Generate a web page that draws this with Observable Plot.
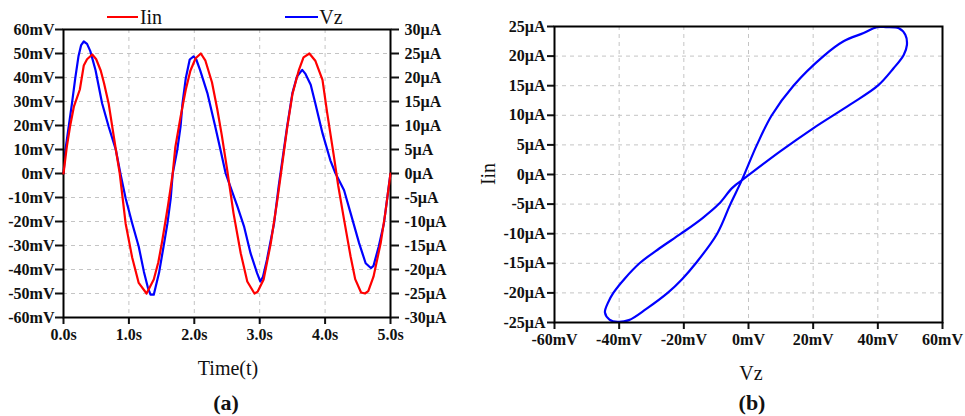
<!DOCTYPE html>
<html><head><meta charset="utf-8">
<script src="https://cdn.jsdelivr.net/npm/d3@7"></script>
<script src="https://cdn.jsdelivr.net/npm/@observablehq/plot@0.6"></script>
<style>
html,body{margin:0;padding:0;background:#fff;}
#root{position:relative;width:965px;height:416px;overflow:hidden;font-family:"Liberation Serif","Times New Roman",serif;color:#111;}
.panel{position:absolute;top:0;}
.panel svg{overflow:visible;}
.lbl{position:absolute;white-space:nowrap;line-height:1;}
.sw{position:absolute;height:0;border-top:2.5px solid;}
</style></head><body><div id="root"></div>
<script>
// ---- Panel (a): time series ----
const tIin = [0,0.05,0.10,0.16,0.25,0.31,0.36,0.44,0.50,0.57,0.62,0.69,0.80,0.86,0.95,1.05,1.15,1.27,1.38,1.45,1.51,1.60,1.67,1.71,1.79,1.87,1.94,2.02,2.10,2.17,2.27,2.35,2.42,2.50,2.60,2.71,2.81,2.92,2.97,3.06,3.17,3.27,3.34,3.42,3.50,3.60,3.67,3.76,3.85,3.96,4.03,4.13,4.20,4.29,4.39,4.46,4.55,4.61,4.66,4.74,4.85,4.92,5.00];
const iinUA = [0,5.5,9.8,14.0,17.5,22.5,23.8,24.8,23.8,21.4,18.8,14.6,5.0,0,-10.4,-17.5,-22.8,-25.0,-22.1,-18.5,-14.0,-6.5,0,5.5,11.8,17.5,21.4,24.0,25.0,23.5,19.0,13.5,8.0,1.0,-8.3,-16.6,-22.5,-25.0,-24.6,-22.1,-14.5,-5.5,1.5,9.5,16.5,21.6,24.2,25.0,23.5,19.5,12.8,4.0,-2.5,-9.6,-17.3,-22.0,-24.8,-25.0,-24.5,-21.5,-14.5,-8.3,0];
const tVz = [0,0.03,0.08,0.13,0.18,0.23,0.27,0.31,0.36,0.41,0.49,0.59,0.69,0.80,0.87,0.95,1.05,1.15,1.23,1.29,1.33,1.38,1.46,1.53,1.59,1.64,1.67,1.74,1.79,1.82,1.87,1.93,1.99,2.03,2.09,2.20,2.32,2.40,2.48,2.55,2.66,2.76,2.86,2.96,3.01,3.05,3.11,3.22,3.29,3.34,3.42,3.50,3.57,3.65,3.70,3.78,3.85,3.96,4.08,4.16,4.29,4.39,4.52,4.62,4.70,4.74,4.82,4.90,4.96,5.00];
const vzMV = [0,9.9,19.6,29.3,39.7,49.0,53.5,55.0,54.0,51.0,43.0,29.3,19.6,9.9,0,-10.3,-20.7,-30.4,-41.0,-47.5,-50.5,-50.5,-41.5,-30.4,-20.7,-10.3,0,9.9,19.6,29.3,39.7,47.5,48.8,47.5,43.0,33.5,19.6,9.9,0,-5.4,-13.8,-22.0,-33.2,-41.5,-45.0,-43.0,-36.0,-20.7,-5.4,4.3,19.6,33.5,40.4,43.2,41.5,37.0,29.3,16.8,5.5,0,-7.0,-16.5,-29.0,-37.4,-39.4,-38.5,-30.4,-20.7,-8.2,0];
const timeTicks = [0,1,2,3,4,5];
const mvTicks = [-60,-50,-40,-30,-20,-10,0,10,20,30,40,50,60];
const uaTicks = [-30,-25,-20,-15,-10,-5,0,5,10,15,20,25,30];

// ---- Panel (b): Iin vs Vz loop ----
const loopVz  = [-2.1,9.8,20,31.4,40,44.8,48,49,48.5,46.5,42.5,39.7,35.6,29.4,23.2,13.9,7.2,2.6,-2.1,-5.6,-9.7,-16.3,-20.4,-25,-31.6,-37,-40.5,-43,-44.4,-43.4,-41.8,-38.3,-33.7,-27.6,-20.9,-14.3,-9.2,-5.1,-2.1];
const loopIin = [-1.0,3.9,7.8,11.8,15,17.9,20.2,21.9,23.6,24.7,24.9,24.9,23.9,22.5,20,15,10,5,-1.0,-5,-10,-15,-17.6,-20,-22.7,-24.6,-24.9,-24.5,-23.3,-21.6,-20,-17.6,-15,-12.5,-10,-7.4,-5,-2.3,-1.0];
const loopXTicks = [-60,-40,-20,0,20,40,60];
const loopYTicks = [-25,-20,-15,-10,-5,0,5,10,15,20,25];

const RED = "#ff0000", BLUE = "#0000ff", GRID = "#c4c4c4";
const vzRows = tVz.map((t, i) => ({t, v: vzMV[i]}));
const iinRows = tIin.map((t, i) => ({t, i: iinUA[i]}));
const loopRows = loopVz.map((v, k) => ({v, i: loopIin[k]}));

const axisStyle = {fontFamily: "'Liberation Serif','Times New Roman',serif", fontSize: "16px", fontWeight: "bold", color: "#111", background: "transparent", overflow: "visible"};
const gridOpts = {stroke: GRID, strokeOpacity: 1, strokeWidth: 1, strokeDasharray: "4,4"};
const root = document.getElementById("root");

function place(svg, left) {
  const d = document.createElement("div");
  d.className = "panel"; d.style.left = left + "px";
  d.appendChild(svg); root.appendChild(d);
}

const dimsA = {width: 480, height: 350, marginLeft: 63, marginRight: 90, marginTop: 29, marginBottom: 33};

const a1 = Plot.plot({
  ...dimsA, style: axisStyle,
  x: {domain: [0, 5]}, y: {domain: [-60, 60]},
  marks: [
    Plot.gridX({ticks: timeTicks.slice(1, -1), ...gridOpts}),
    Plot.gridY({ticks: mvTicks.slice(1, -1), ...gridOpts}),
    Plot.line(vzRows, {x: "t", y: "v", stroke: BLUE, strokeWidth: 2.2}),
    Plot.axisX({ticks: timeTicks, tickFormat: d => d.toFixed(1) + "s", tickSize: 7, tickPadding: 4, strokeWidth: 2, label: null}),
    Plot.axisY({ticks: mvTicks, tickFormat: d => d + "mV", tickSize: 8, tickPadding: 1, strokeWidth: 2, label: null}),
    Plot.frame({stroke: "#000", strokeWidth: 2})
  ]
});
place(a1, 0);

const a2 = Plot.plot({
  ...dimsA, style: axisStyle,
  x: {domain: [0, 5], axis: null}, y: {domain: [-30, 30]},
  marks: [
    Plot.line(iinRows, {x: "t", y: "i", stroke: RED, strokeWidth: 2.2}),
    Plot.axisY({anchor: "right", ticks: uaTicks, tickFormat: d => d + "µA", tickSize: 8, tickPadding: 6, strokeWidth: 2, label: null})
  ]
});
place(a2, 0);

const b = Plot.plot({
  width: 485, height: 350, marginLeft: 74, marginRight: 23, marginTop: 26, marginBottom: 28,
  style: axisStyle,
  x: {domain: [-60, 60]}, y: {domain: [-25, 25]},
  marks: [
    Plot.gridX({ticks: loopXTicks.slice(1, -1), ...gridOpts}),
    Plot.gridY({ticks: loopYTicks.slice(1, -1), ...gridOpts}),
    Plot.line(loopRows, {x: "v", y: "i", stroke: BLUE, strokeWidth: 2.2, curve: "catmull-rom", clip: true}),
    Plot.axisX({ticks: loopXTicks, tickFormat: d => d + "mV", tickSize: 7, tickPadding: 4, strokeWidth: 2, label: null}),
    Plot.axisY({ticks: loopYTicks, tickFormat: d => d + "µA", tickSize: 7, tickPadding: 2, strokeWidth: 2, label: null}),
    Plot.frame({stroke: "#000", strokeWidth: 2})
  ]
});
place(b, 480);

function label(text, x, y, opts = {}) {
  const s = document.createElement("div");
  s.className = "lbl";
  s.textContent = text;
  s.style.left = x + "px"; s.style.top = y + "px";
  s.style.fontSize = (opts.size || 20) + "px";
  if (opts.bold) s.style.fontWeight = "bold";
  s.style.transform = "translate(-50%,-50%)" + (opts.rotate ? " rotate(" + opts.rotate + "deg)" : "");
  root.appendChild(s);
}
function swatch(color, x1, x2, y) {
  const s = document.createElement("div");
  s.className = "sw";
  s.style.borderTopColor = color;
  s.style.left = x1 + "px"; s.style.width = (x2 - x1) + "px"; s.style.top = (y - 1) + "px";
  root.appendChild(s);
}
swatch(RED, 107, 138, 17);
label("Iin", 151, 17);
swatch(BLUE, 285, 318, 17);
label("Vz", 331, 17);
label("Time(t)", 228, 368);
label("(a)", 226, 403, {bold: true, size: 22});
label("Vz", 751, 373);
label("Iin", 488, 174, {rotate: -90});
label("(b)", 752, 403, {bold: true, size: 22});
</script></body></html>
